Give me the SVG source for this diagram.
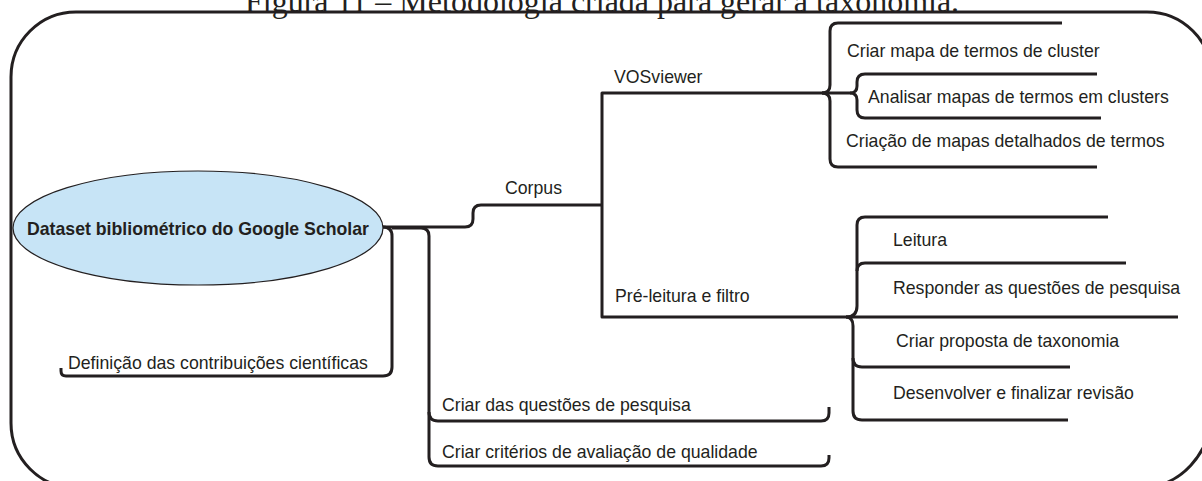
<svg xmlns="http://www.w3.org/2000/svg" width="1202" height="481" viewBox="0 0 1202 481">
<style>
.ln{fill:none;stroke:#231f20;stroke-width:3;stroke-linejoin:round}
.t{font-family:"Liberation Sans",Arial,sans-serif;font-size:17.7px;fill:#231f20}
.b{font-weight:bold}
.title{font-family:"Liberation Serif","Times New Roman",serif;font-size:32px;fill:#231f20}
</style>
<rect width="1202" height="481" fill="#ffffff"/>
<text class="title" x="245" y="12">Figura 11 – Metodologia criada para gerar a taxonomia.</text>
<path class="ln" d="M76 12 H1147 A65 65 0 0 1 1212 77 V410 A72 78 0 0 1 1140 488 H76 A65 65 0 0 1 11 423 V77 A65 65 0 0 1 76 12 Z"/>
<g id="connectors" class="ln">
<path d="M383 227 H465 Q473 227 473 219 V213 Q473 205 481 205 H602"/>
<path d="M383 227 Q392 227 392 236 V367 Q392 376 383 376 H66 Q61 376 61 371 V368"/>
<path d="M392 228 H421 Q429 228 429 236 V412 Q429 421 438 421 H821 Q829 421 829 413 V407"/>
<path d="M429 412 V457 Q429 466 438 466 H821 Q829 466 829 458 V455"/>
<path d="M822 93 H602 V317 H1178"/>
<path d="M822 93 Q830 93 830 85 V31 Q830 23 838 23 H1062"/>
<path d="M822 93 Q830 93 830 101 V159 Q830 167 838 167 H1097"/>
<path d="M822 93 H850 Q857 93 857 86 V82 Q857 74 865 74 H1097"/>
<path d="M850 93 Q857 93 857 100 V110 Q857 118 865 118 H1101"/>
<path d="M846 317 Q857 317 857 306 V225 Q857 217 865 217 H1108"/>
<path d="M857 271 Q857 263 865 263 H1126"/>
<path d="M846 317 Q853 317 853 326 V411 Q853 420 862 420 H1068"/>
<path d="M853 358 Q853 367 862 367 H1070"/>
</g>
<g id="root">
<ellipse cx="198" cy="228" rx="185" ry="57" fill="#c7e4f6" stroke="#231f20" stroke-width="1.2"/>
<text class="t b" x="198" y="235" text-anchor="middle">Dataset bibliométrico do Google Scholar</text>
</g>
<g id="corpus"><text class="t" x="505" y="194">Corpus</text></g>
<g id="vosviewer"><text class="t" x="614" y="83">VOSviewer</text></g>
<g id="prefiltro"><text class="t" x="615" y="302">Pré-leitura e filtro</text></g>
<g id="criar-mapa"><text class="t" x="847" y="57">Criar mapa de termos de cluster</text></g>
<g id="analisar"><text class="t" x="868" y="103">Analisar mapas de termos em clusters</text></g>
<g id="criacao"><text class="t" x="846" y="147">Criação de mapas detalhados de termos</text></g>
<g id="leitura"><text class="t" x="893" y="246">Leitura</text></g>
<g id="responder"><text class="t" x="893" y="294">Responder as questões de pesquisa</text></g>
<g id="proposta"><text class="t" x="896" y="347">Criar proposta de taxonomia</text></g>
<g id="desenvolver"><text class="t" x="893" y="399">Desenvolver e finalizar revisão</text></g>
<g id="definicao"><text class="t" x="68" y="369">Definição das contribuições científicas</text></g>
<g id="questoes"><text class="t" x="442" y="411">Criar das questões de pesquisa</text></g>
<g id="criterios"><text class="t" x="442" y="458">Criar critérios de avaliação de qualidade</text></g>
</svg>
